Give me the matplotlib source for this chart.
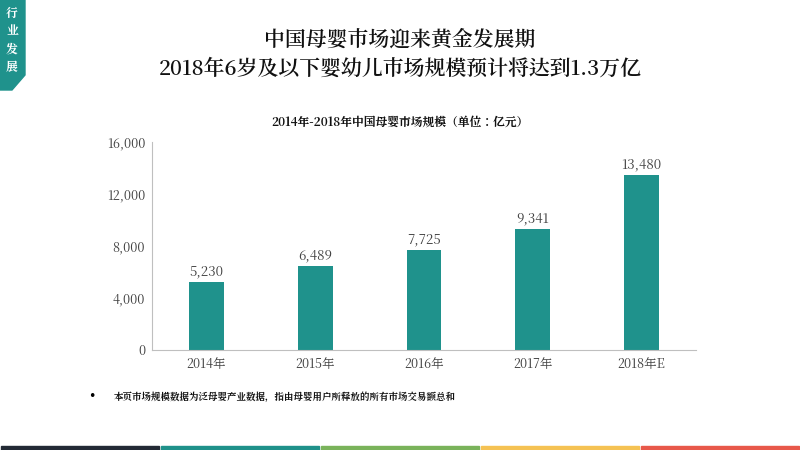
import matplotlib
matplotlib.use("Agg")
import matplotlib.pyplot as plt
from matplotlib.patches import Polygon, Rectangle

categories = ["2014年", "2015年", "2016年", "2017年", "2018年E"]
values = [5230, 6489, 7725, 9341, 13480]
yticks = [0, 4000, 8000, 12000, 16000]

teal = "#1f928c"
cjk = "Noto Serif CJK JP"

fig = plt.figure(figsize=(8, 4.5), dpi=100)
ax = fig.add_axes([0.19, 0.222, 0.68, 0.462])
x = range(len(categories))
ax.bar(x, values, width=0.32, color=teal)
for i, v in zip(x, values):
    ax.text(i, v + 300, f"{v:,}", ha="center", va="bottom", fontsize=9.5, family=cjk, color="#404040")
ax.set_ylim(0, 16000)
ax.set_xlim(-0.5, len(categories) - 0.5)
ax.set_yticks(yticks)
ax.set_yticklabels([f"{t:,}" for t in yticks], family=cjk, fontsize=9, color="#404040")
ax.set_xticks(list(x))
ax.set_xticklabels(categories, fontsize=9, color="#404040", family=cjk)
for s in ["top", "right"]:
    ax.spines[s].set_visible(False)
ax.spines["left"].set_color("#bfbfbf")
ax.spines["bottom"].set_color("#bfbfbf")
ax.tick_params(length=0, pad=5)

fig.text(0.5, 0.91, "中国母婴市场迎来黄金发展期", ha="center", va="center", family=cjk, fontsize=15, weight="semibold", color="#111111")
fig.text(0.5, 0.845, "2018年6岁及以下婴幼儿市场规模预计将达到1.3万亿", ha="center", va="center", family=cjk, fontsize=15, weight="semibold", color="#111111")
fig.text(0.5, 0.728, "2014年-2018年中国母婴市场规模（单位：亿元）", ha="center", va="center", family=cjk, fontsize=8.5, weight="bold", color="#111111")
fig.text(0.115, 0.118, "•", ha="center", va="center", fontsize=9)
fig.text(0.142, 0.118, "本页市场规模数据为泛母婴产业数据，指由母婴用户所释放的所有市场交易额总和", ha="left", va="center", family=cjk, fontsize=6.8, weight="bold", color="#111111")

badge = Polygon([(0, 1), (25/800, 1), (25/800, 1-75/450), (12/800, 1-90/450), (0, 1-90/450)],
                closed=True, transform=fig.transFigure, color=teal)
fig.patches.append(badge)
fig.text(12/800, 1-40/450, "行\n业\n发\n展", ha="center", va="center", family=cjk, fontsize=8.5, weight="bold", color="white", linespacing=1.45)

cols = ["#232a35", "#1f918a", "#7ab35b", "#f5c253", "#e8584a"]
w = 800/5
for i, c in enumerate(cols):
    fig.patches.append(Rectangle(((i*w+1)/800, 0), (w-2)/800, 4/450, transform=fig.transFigure, color=c))

fig.savefig("out.png", dpi=100)
